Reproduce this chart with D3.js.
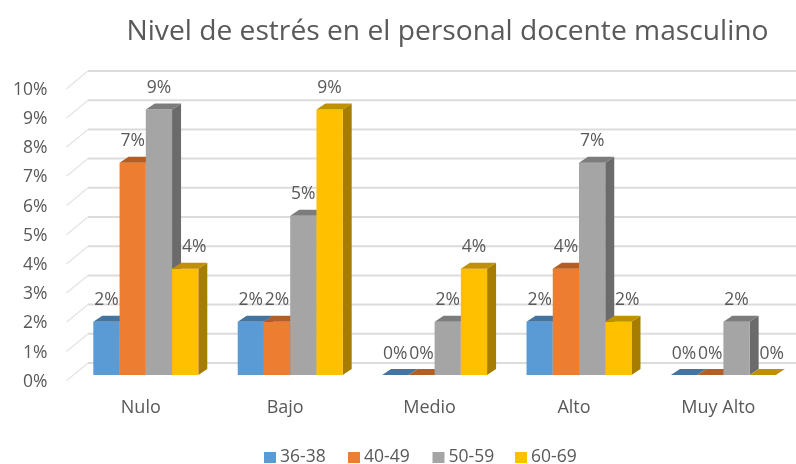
<!DOCTYPE html>
<html>
<head>
<meta charset="utf-8">
<script src="https://cdn.jsdelivr.net/npm/d3@7"></script>
<style>
  html, body { margin: 0; padding: 0; background: #fff; }
  svg { display: block; filter: blur(0.5px); }
  text { font-family: "Open Sans", "Noto Sans", sans-serif; fill: #595959; }
  .domain, .tick line { display: none; }
</style>
</head>
<body>
<div id="chart"></div>
<script>
var categories = ['Nulo', 'Bajo', 'Medio', 'Alto', 'Muy Alto'];
var seriesNames = ['36-38', '40-49', '50-59', '60-69'];
var seriesColors = ['#5B9BD5', '#ED7D31', '#A5A5A5', '#FFC000'];
var values3638 = [1.82, 1.82, 0, 1.82, 0];
var values4049 = [7.27, 1.82, 0, 3.64, 0];
var values5059 = [9.09, 5.45, 1.82, 7.27, 1.82];
var values6069 = [3.64, 9.09, 3.64, 1.82, 0];
var yTicks = [0, 1, 2, 3, 4, 5, 6, 7, 8, 9, 10];

var allSeries = [values3638, values4049, values5059, values6069];

var width = 796, height = 464;
var depthX = 9, depthY = 6;        // bar depth
var wallFront = 5.7, wallBack = 12; // gridlines run around the bars
var wallLeft = 88;

var svg = d3.select('#chart').append('svg')
  .attr('width', width)
  .attr('height', height);

var x = d3.scaleBand().domain(categories).range([73.6, 795.6]).paddingInner(0.273).paddingOuter(0.1365);
var xSeries = d3.scaleBand().domain(d3.range(seriesNames.length)).range([0, x.bandwidth()]);
var y = d3.scaleLinear().domain([0, 10]).range([375, 83]);

svg.append('text')
  .attr('x', 447.5)
  .attr('y', 40)
  .attr('text-anchor', 'middle')
  .style('font-size', '28.2px')
  .text('Nivel de estrés en el personal docente masculino');

// gridlines: side wall then back wall
var grid = svg.append('g');
grid.selectAll('.wall')
  .data(yTicks)
  .enter().append('line')
  .attr('x1', 66.5)
  .attr('x2', wallLeft)
  .attr('y1', function(d) { return y(d) + wallFront; })
  .attr('y2', function(d) { return y(d) - wallBack; })
  .attr('stroke', '#e4e4e4')
  .attr('stroke-width', 1.3);
grid.selectAll('.back')
  .data(yTicks)
  .enter().append('line')
  .attr('x1', wallLeft)
  .attr('x2', width)
  .attr('y1', function(d) { return y(d) - wallBack; })
  .attr('y2', function(d) { return y(d) - wallBack; })
  .attr('stroke', '#dcdcdc')
  .attr('stroke-width', 2);

var yAxis = d3.axisLeft(y)
  .tickValues(yTicks)
  .tickSize(0)
  .tickPadding(0)
  .tickFormat(function(d) { return d + '%'; });
svg.append('g')
  .attr('transform', 'translate(47.5,' + wallFront + ')')
  .call(yAxis)
  .selectAll('text')
  .style('font-size', '17.5px');

var xAxis = d3.axisBottom(x).tickSize(0).tickPadding(0);
svg.append('g')
  .attr('transform', 'translate(-5,400)')
  .call(xAxis)
  .selectAll('text')
  .style('font-size', '18px');

function shade(color, k) {
  var c = d3.rgb(color);
  return d3.rgb(c.r * k, c.g * k, c.b * k).formatHex();
}

// left to right, each bar paints over the one before it
categories.forEach(function(cat, i) {
  var group = svg.append('g').attr('transform', 'translate(' + x(cat) + ',0)');
  allSeries.forEach(function(vals, s) {
    var left = xSeries(s), right = left + xSeries.bandwidth();
    var top = y(vals[i]), base = y(0);
    var color = seriesColors[s];
    var bar = group.append('g');
    if (vals[i] > 0) {
      bar.append('path')
        .attr('d', d3.line()([[right, top], [right + depthX, top - depthY], [right + depthX, base - depthY], [right, base]]))
        .attr('fill', shade(color, 0.65));
      bar.append('rect')
        .attr('x', left)
        .attr('y', top)
        .attr('width', xSeries.bandwidth())
        .attr('height', base - top)
        .attr('fill', color);
    }
    bar.append('path')
      .attr('d', d3.line()([[left, top], [left + depthX, top - depthY], [right + depthX, top - depthY], [right, top]]))
      .attr('fill', shade(color, 0.75));
  });
});

// data labels on top of everything
categories.forEach(function(cat, i) {
  allSeries.forEach(function(vals, s) {
    // last label moves off the side of a taller neighbour
    var shift = (s === 3 && allSeries[2][i] > vals[i]) ? 9 : 0;
    svg.append('text')
      .attr('x', x(cat) + xSeries(s) + xSeries.bandwidth() / 2 + shift)
      .attr('y', y(vals[i]) - 16.5)
      .attr('text-anchor', 'middle')
      .style('font-size', '17.5px')
      .text(d3.format('.0f')(vals[i]) + '%');
  });
});

// legend
var legendX = d3.scaleOrdinal().domain(seriesNames).range([264, 348, 432.5, 515]);
var legend = svg.selectAll('.legend')
  .data(seriesNames)
  .enter().append('g')
  .attr('class', 'legend')
  .attr('transform', function(d) { return 'translate(' + legendX(d) + ',452)'; });
legend.append('rect')
  .attr('width', 12)
  .attr('height', 11)
  .attr('fill', function(d, i) { return seriesColors[i]; });
legend.append('text')
  .attr('x', 16)
  .attr('y', 10)
  .style('font-size', '17.5px')
  .text(function(d) { return d; });
</script>
</body>
</html>
